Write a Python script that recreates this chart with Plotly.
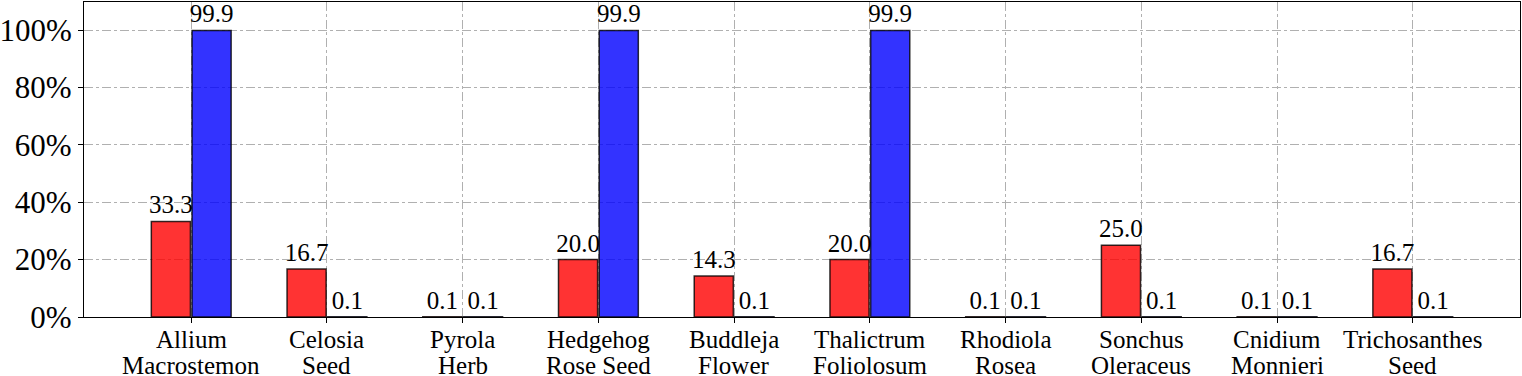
import plotly.graph_objects as go

# categories and values
herbs_top = ['Allium', 'Celosia', 'Pyrola', 'Hedgehog', 'Buddleja', 'Thalictrum', 'Rhodiola',
             'Sonchus', 'Cnidium', 'Trichosanthes']
herbs_bottom = ['Macrostemon', 'Seed', 'Herb', 'Rose Seed', 'Flower', 'Foliolosum', 'Rosea',
                'Oleraceus', 'Monnieri', 'Seed']
red_vals = [33.3, 16.7, 0.1, 20.0, 14.3, 20.0, 0.1, 25.0, 0.1, 16.7]
blue_vals = [99.9, 0.1, 0.1, 99.9, 0.1, 99.9, 0.1, 0.1, 0.1, 0.1]
y_ticks = [0, 20, 40, 60, 80, 100]

serif = 'Liberation Serif'
xs = list(range(len(herbs_top)))

fig = go.Figure()
for vals, col in [(red_vals, 'rgba(255,0,0,0.8)'), (blue_vals, 'rgba(0,0,255,0.8)')]:
    fig.add_trace(go.Bar(
        x=xs,
        y=vals,
        marker=dict(color=col, line=dict(color='rgba(0,0,0,0.8)', width=1.5)),
        text=[f'{v:.1f}' for v in vals],
        textposition='outside',
        constraintext='none',
        textfont=dict(family=serif, size=25, color='black'),
        cliponaxis=False,
        showlegend=False,
    ))

# two-line category labels, tighter line spacing than plotly's <br>
for x, top, bottom in zip(xs, herbs_top, herbs_bottom):
    for lab, shift in [(top, -7), (bottom, -33)]:
        fig.add_annotation(x=x, y=0, xref='x', yref='paper', text=lab, showarrow=False,
                           yanchor='top', yshift=shift,
                           font=dict(family=serif, size=25, color='black'))

fig.update_layout(
    width=1522, height=376,
    margin=dict(l=84, r=2, t=2, b=59),
    plot_bgcolor='white', paper_bgcolor='white',
    barmode='group', bargap=0.4, bargroupgap=0.04,
    font=dict(family=serif, color='black'),
)
fig.update_xaxes(
    range=[-0.79, 9.79], automargin=False,
    tickvals=xs, showticklabels=False,
    showgrid=True, gridcolor='#b0b0b0', griddash='dashdot', gridwidth=1,
    showline=True, linecolor='black', linewidth=1.2, mirror=True,
    ticks='outside', ticklen=5, tickcolor='black',
    zeroline=False,
)
fig.update_yaxes(
    range=[0, 109.8], automargin=False,
    tickvals=y_ticks, ticktext=[f'{t}%' for t in y_ticks],
    tickfont=dict(size=31),
    showgrid=True, gridcolor='#b0b0b0', griddash='dashdot', gridwidth=1,
    showline=True, linecolor='black', linewidth=1.2, mirror=True,
    ticks='outside', ticklen=5, tickcolor='black',
    zeroline=False,
)

fig.write_html(
    'out.html',
    config={'displayModeBar': False},
    post_script="document.body.style.margin='0';"
                "document.body.style.overflow='hidden';"
                "document.documentElement.style.overflow='hidden';",
)
